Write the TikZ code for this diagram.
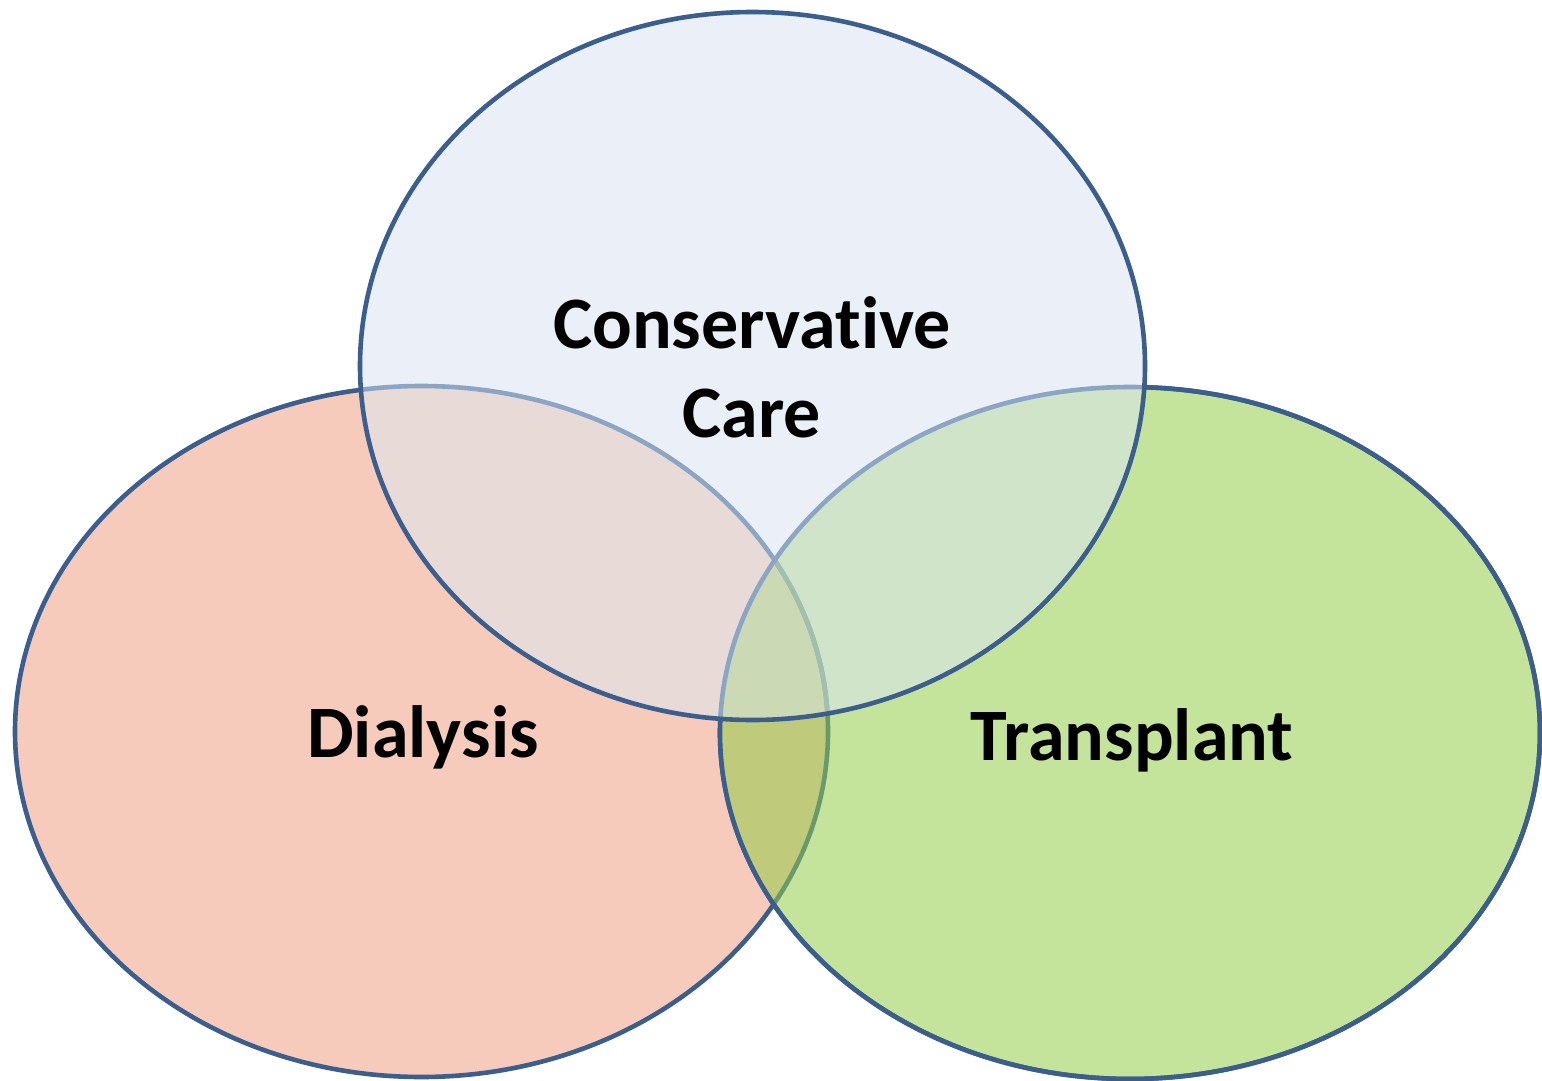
\documentclass[tikz,border=0pt]{standalone}
\usepackage{fontspec}
\setmainfont[Ligatures=NoCommon]{Carlito}
\definecolor{edge}{HTML}{3B5E8C}
\definecolor{edgelight}{HTML}{8CA5C4}
\definecolor{edgegreen}{HTML}{6B9A6A}
\definecolor{edgetriple}{HTML}{A1BFAD}
\definecolor{pinkfill}{HTML}{F6CBBB}
\definecolor{greenfill}{HTML}{C4E49C}
\definecolor{bluefill}{HTML}{EBF0F8}
\definecolor{olivefill}{HTML}{BFCB7B}
\definecolor{toppink}{HTML}{E7DAD7}
\definecolor{topgreen}{HTML}{CFE4C8}
\definecolor{triplefill}{HTML}{CBD9B5}
\tikzset{
  ring/.style={line width=4.6pt},
  label/.style={font=\bfseries\fontsize{74}{87}\selectfont, inner sep=0pt, anchor=base}
}
\newcommand{\leftE}{(421.5,731.5) ellipse [x radius=406.5, y radius=345.5]}
\newcommand{\rightE}{(1130,733) ellipse [x radius=410, y radius=346]}
\newcommand{\topE}{(752.5,366) ellipse [x radius=392.5, y radius=354]}
\begin{document}
\begin{tikzpicture}[x=1pt,y=-1pt]
\useasboundingbox (0,0) rectangle (1542,1081);
% left and right
\fill[pinkfill] \leftE;
\draw[ring,edge] \leftE;
\fill[greenfill] \rightE;
\draw[ring,edge] \rightE;
\begin{scope}
  \clip \rightE;
  \fill[olivefill] \leftE;
  \draw[ring,edgegreen] \leftE;
\end{scope}
\draw[ring,edge] \rightE;
% top
\fill[bluefill] \topE;
\begin{scope}
  \clip \topE;
  \fill[toppink] \leftE;
  \fill[topgreen] \rightE;
  \begin{scope}
    \clip \leftE;
    \fill[triplefill] \rightE;
  \end{scope}
  \draw[ring,edgelight] \leftE;
  \begin{scope}
    \clip \rightE;
    \draw[ring,edgetriple] \leftE;
  \end{scope}
  \draw[ring,edgelight] \rightE;
\end{scope}
\draw[ring,edge] \topE;
% labels
\node[label] (cons) at (752,348) {Conservative};
\node[label] (care) at (752,437) {Care};
\node[label] (dial) at (423,757) {Dialysis};
\node[label] (tran) at (1132,760) {Transplant};
\end{tikzpicture}
\end{document}
